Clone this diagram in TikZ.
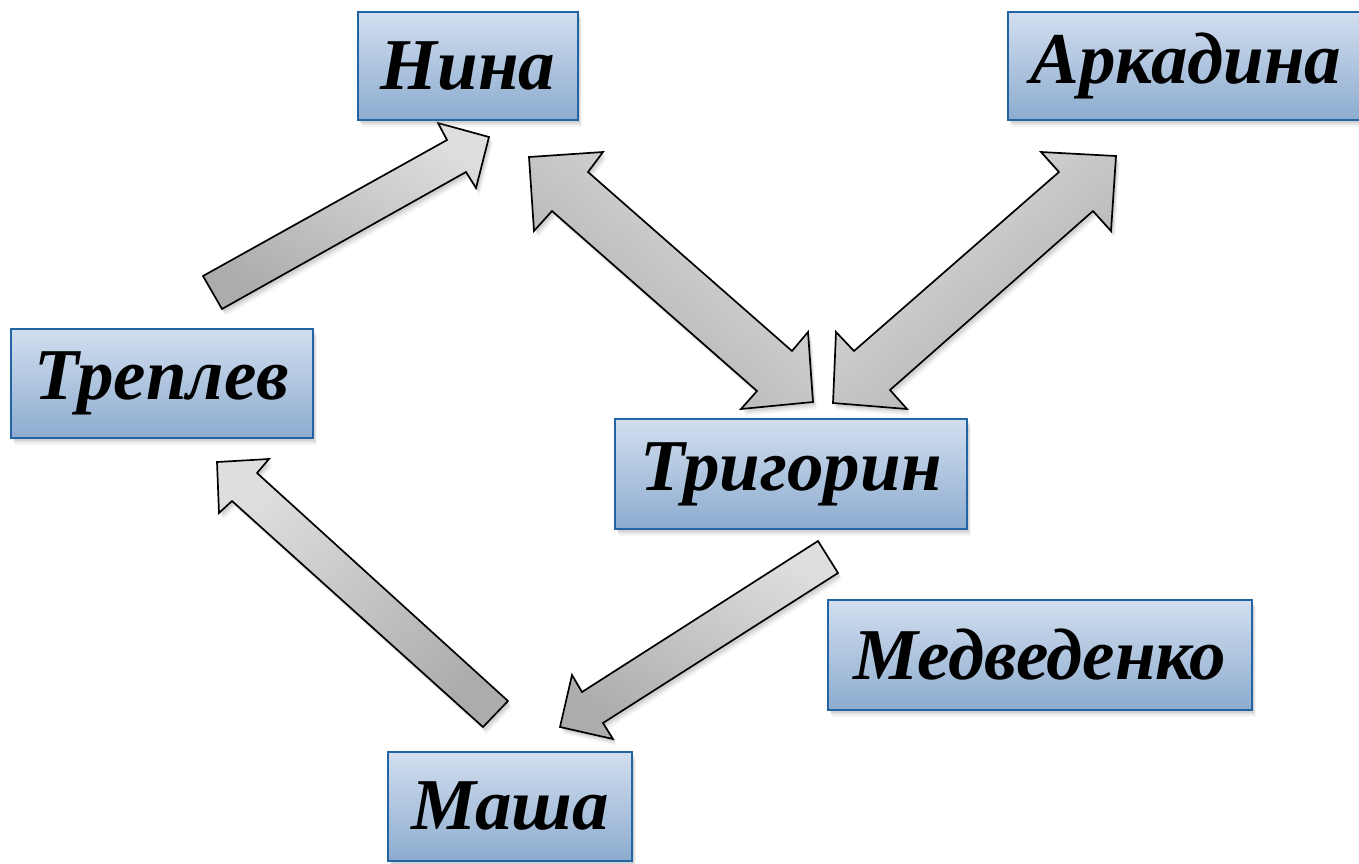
\documentclass[tikz,border=0pt]{standalone}
\usepackage{fontspec}
\setmainfont{Liberation Serif}
\usetikzlibrary{shadows}
\definecolor{boxtop}{RGB}{210,222,239}
\definecolor{boxbot}{RGB}{140,172,207}
\definecolor{boxline}{RGB}{35,100,165}
\definecolor{arrlight}{RGB}{222,222,222}
\definecolor{arrdark}{RGB}{172,172,172}
\tikzset{
  softshadow/.style={
    drop shadow={shadow xshift=2pt, shadow yshift=-3pt, opacity=0.18},
    drop shadow={shadow xshift=3pt, shadow yshift=-5pt, opacity=0.14},
    drop shadow={shadow xshift=4pt, shadow yshift=-7pt, opacity=0.08}},
  person/.style={rectangle, draw=boxline, line width=1.6pt, top color=boxtop, bottom color=boxbot,
    inner sep=0pt, font=\fontsize{73}{80}\selectfont\bfseries\itshape, softshadow},
  blockarrow/.style={draw=black, line width=1.7pt, line join=miter, softshadow,
    top color=arrlight, bottom color=arrdark}
}
\begin{document}
\begin{tikzpicture}[x=1pt,y=-1pt]
\useasboundingbox (0,0) rectangle (1359,863);
% block arrows
% Treplev -> Nina
\draw[blockarrow, shading angle=-29]
  (203,276) -- (447,140) -- (438,123) -- (489,137) -- (476,188) -- (466,172) -- (222,309) -- cycle;
% Nina <-> Trigorin
\draw[blockarrow, shading angle=-41]
  (529,157) -- (603,152) -- (588,172) -- (792,351) -- (808,332) -- (813,402) -- (741,409)
  -- (757,391) -- (552,211) -- (534,231) -- cycle;
% Arkadina <-> Trigorin
\draw[blockarrow, shading angle=41]
  (1116,156) -- (1041,152) -- (1059,172) -- (854,351) -- (836,332) -- (833,403) -- (907,409)
  -- (890,390) -- (1093,211) -- (1111,231) -- cycle;
% Trigorin -> Masha
\draw[blockarrow, shading angle=-29]
  (818,541) -- (582,692) -- (572,675) -- (560,727) -- (613,739) -- (603,723) -- (838,573) -- cycle;
% Masha -> Treplev
\draw[blockarrow, shading angle=42]
  (217,462) -- (269,459) -- (257,473) -- (508,701) -- (483,727) -- (232,501) -- (219,513) -- cycle;
% boxes
\node[person, minimum width=220pt, minimum height=108pt] (nina) at (468,66) {Нина};
\node[person, minimum width=366pt, minimum height=108pt] (arkadina) at (1191,66) {Аркадина\hspace*{10pt}};
\node[person, minimum width=302pt, minimum height=109pt] (treplev) at (162,383.5) {Треплев};
\node[person, minimum width=352pt, minimum height=110pt] (trigorin) at (791,474) {Тригорин};
\node[person, minimum width=424pt, minimum height=110pt] (medvedenko) at (1040,655) {Медведенко};
\node[person, minimum width=244pt, minimum height=109pt] (masha) at (510,806.5) {Маша};
\end{tikzpicture}
\end{document}
